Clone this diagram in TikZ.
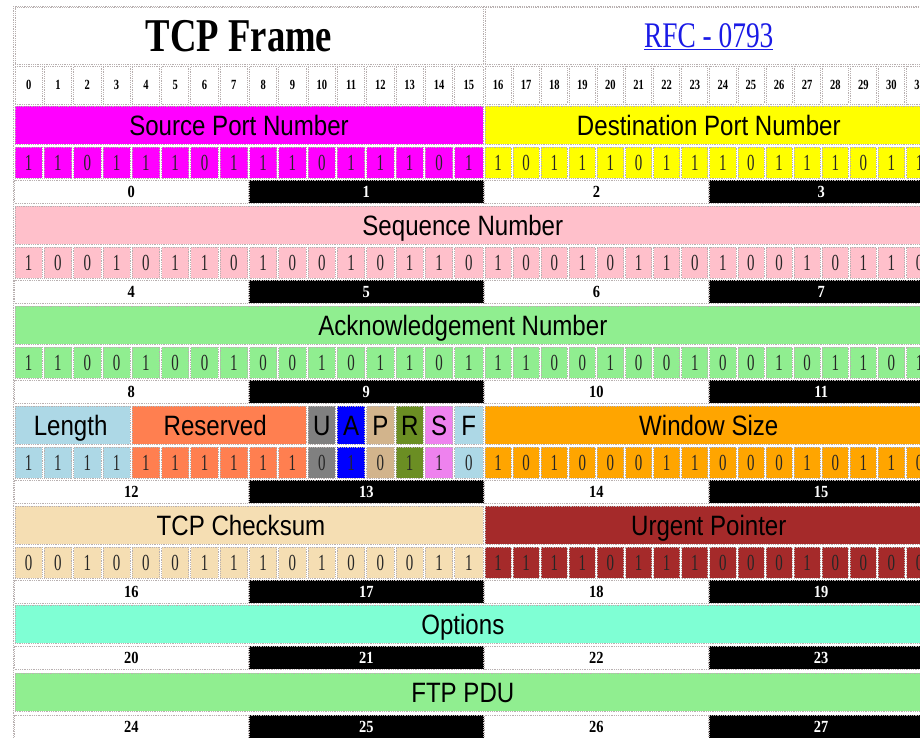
\documentclass[tikz,border=0pt]{standalone}
\usepackage{fontspec}
\setmainfont{Liberation Serif}
\newfontfamily\fieldfont[FakeStretch=0.86]{Liberation Sans}
\newfontfamily\titlefont[FakeStretch=0.78]{Liberation Serif}
\newfontfamily\rfcfont[FakeStretch=0.76]{Liberation Serif}
\newfontfamily\numfont[FakeStretch=0.75]{Liberation Serif}
\newfontfamily\bytefont[FakeStretch=0.85]{Liberation Serif}
\newfontfamily\bitfont[FakeStretch=0.65]{Liberation Serif}
\usetikzlibrary{calc}

\definecolor{srcmag}{HTML}{FF00FF}
\definecolor{dstyel}{HTML}{FFFF00}
\definecolor{seqpink}{HTML}{FFC0CB}
\definecolor{ackgreen}{HTML}{90EE90}
\definecolor{lenblue}{HTML}{ADD8E6}
\definecolor{rescoral}{HTML}{FF7F50}
\definecolor{ugray}{HTML}{808080}
\definecolor{ablue}{HTML}{0000FF}
\definecolor{ptan}{HTML}{D2B48C}
\definecolor{rolive}{HTML}{6B8E23}
\definecolor{sviolet}{HTML}{EE82EE}
\definecolor{winorange}{HTML}{FFA500}
\definecolor{chkwheat}{HTML}{F5DEB3}
\definecolor{urgred}{HTML}{A52A2A}
\definecolor{optaqua}{HTML}{7FFFD4}
\definecolor{linkblue}{HTML}{1A1AE6}
\definecolor{rulegray}{HTML}{B8B0B0}

\tikzset{
  declare function={bitx(\i)=(\i<16)*(14+\i*29.3125)+(\i>=16)*(484+(\i-16)*28.1);},
  cellbox/.style={draw=rulegray, densely dotted, line width=0.8pt,
    inner sep=0pt, outer sep=0pt, anchor=north west},
  fieldtxt/.style={font={\fieldfont\fontsize{28pt}{30pt}\selectfont},
    text height=20pt, text depth=0pt, inner sep=0pt},
  titletxt/.style={font={\titlefont\bfseries\fontsize{47pt}{50pt}\selectfont},
    text height=31pt, text depth=0pt, inner sep=0pt},
  rfctxt/.style={font={\rfcfont\fontsize{36pt}{38pt}\selectfont},
    text=linkblue, text height=24pt, text depth=0pt, inner sep=0pt},
  bitnum/.style={cellbox, fill=white, minimum height=38,
    font={\numfont\bfseries\fontsize{14pt}{16pt}\selectfont},
    text height=9.5pt, text depth=0pt},
  bitval/.style={cellbox, minimum height=31, text=black!85,
    font={\bitfont\fontsize{23pt}{25pt}\selectfont},
    text height=15.5pt, text depth=0pt},
  bytenum/.style={cellbox, minimum height=23,
    font={\bytefont\bfseries\fontsize{17pt}{19pt}\selectfont},
    text height=11.5pt, text depth=0pt}
}

\begin{document}
\begin{tikzpicture}[x=1pt, y=-1pt]
  \useasboundingbox (0,0) rectangle (920,737);
  \clip (0,0) rectangle (920,737);
  \fill[white] (0,0) rectangle (920,737);
  \draw[rulegray, densely dotted, line width=0.8pt] (13,6) rectangle (960,745);

  % heading
  \node[cellbox, fill=white, minimum width={bitx(16)-bitx(0)-2}, minimum height=57]
    (title) at ({bitx(0)+1},7) {};
  \node[cellbox, fill=white, minimum width={bitx(32)-bitx(16)-2}, minimum height=57]
    (rfc) at ({bitx(16)+1},7) {};
  \node[titletxt] (title-txt) at ([xshift=-10pt]title.center) {TCP Frame};
  \node[rfctxt] (rfc-txt) at (rfc.center) {\underline{RFC - 0793}};

  % bit positions
  \foreach \i in {0,...,31}
    \node[bitnum, minimum width={bitx(\i+1)-bitx(\i)-2}] (n\i) at ({bitx(\i)+1},66) {\i};

  % fields
  \foreach \nm/\txt/\a/\b/\c/\top/\dx in {
      src/Source Port Number/0/15/srcmag/106/-10,
      dst/Destination Port Number/16/31/dstyel/106/0,
      seq/Sequence Number/0/31/seqpink/206/-11,
      ack/Acknowledgement Number/0/31/ackgreen/306/-11,
      len/Length/0/3/lenblue/406/-2,
      res/Reserved/4/9/rescoral/406/-4,
      furg/U/10/10/ugray/406/0,
      fack/A/11/11/ablue/406/0,
      fpsh/P/12/12/ptan/406/0,
      frst/R/13/13/rolive/406/0,
      fsyn/S/14/14/sviolet/406/0,
      ffin/F/15/15/lenblue/406/0,
      win/Window Size/16/31/winorange/406/0,
      chk/TCP Checksum/0/15/chkwheat/506/-8,
      upt/Urgent Pointer/16/31/urgred/506/0,
      opt/Options/0/31/optaqua/605/-11,
      ftp/FTP PDU/0/31/ackgreen/673/-11} {
    \node[cellbox, fill=\c, minimum width={bitx(\b+1)-bitx(\a)-2}, minimum height=38]
      (\nm) at ({bitx(\a)+1},\top) {};
    \node[fieldtxt] (\nm-txt) at ([xshift=\dx pt]\nm.center) {\txt};
  }

  % bit values
  \foreach \r/\ca/\cb/\bits in {
      0/srcmag/dstyel/{1,1,0,1,1,1,0,1,1,1,0,1,1,1,0,1,1,0,1,1,1,0,1,1,1,0,1,1,1,0,1,1},
      1/seqpink/seqpink/{1,0,0,1,0,1,1,0,1,0,0,1,0,1,1,0,1,0,0,1,0,1,1,0,1,0,0,1,0,1,1,0},
      2/ackgreen/ackgreen/{1,1,0,0,1,0,0,1,0,0,1,0,1,1,0,1,1,1,0,0,1,0,0,1,0,0,1,0,1,1,0,1},
      4/chkwheat/urgred/{0,0,1,0,0,0,1,1,1,0,1,0,0,0,1,1,1,1,1,1,0,1,1,1,0,0,0,1,0,0,0,0}} {
    \foreach \v [count=\i from 0] in \bits {
      \ifnum\i<16 \def\fc{\ca}\else\def\fc{\cb}\fi
      \node[bitval, fill=\fc, minimum width={bitx(\i+1)-bitx(\i)-2}]
        (v\r-\i) at ({bitx(\i)+1},{147+100*\r}) {\v};
    }
  }
  \foreach \v/\fc [count=\i from 0] in {
      1/lenblue,1/lenblue,1/lenblue,1/lenblue,
      1/rescoral,1/rescoral,1/rescoral,1/rescoral,1/rescoral,1/rescoral,
      0/ugray,1/ablue,0/ptan,1/rolive,1/sviolet,0/lenblue,
      1/winorange,0/winorange,1/winorange,0/winorange,0/winorange,0/winorange,
      1/winorange,1/winorange,0/winorange,0/winorange,0/winorange,1/winorange,
      0/winorange,1/winorange,1/winorange,0/winorange}
    \node[bitval, fill=\fc, minimum width={bitx(\i+1)-bitx(\i)-2}]
      (v3-\i) at ({bitx(\i)+1},447) {\v};

  % byte numbers
  \foreach \k/\top in {0/180,1/280,2/380,3/480,4/580,5/646,6/715}
    \foreach \j in {0,...,3} {
      \pgfmathtruncatemacro\n{4*\k+\j}
      \ifodd\j \def\fc{black}\def\tc{white}\else\def\fc{white}\def\tc{black}\fi
      \node[bytenum, fill=\fc, text=\tc, minimum width={bitx(8*\j+8)-bitx(8*\j)-1}]
        (byte\n) at ({bitx(8*\j)+0.5},\top) {\n};
    }
\end{tikzpicture}
\end{document}
